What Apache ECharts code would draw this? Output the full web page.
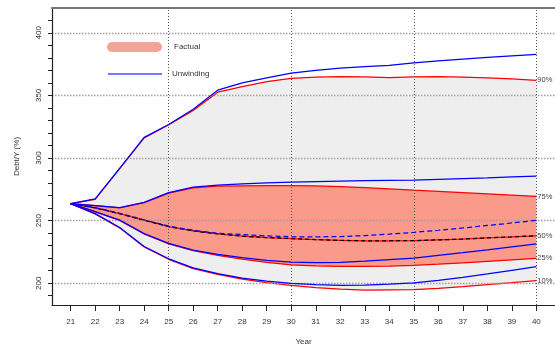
<!DOCTYPE html>
<html><head><meta charset="utf-8">
<script src="https://cdn.jsdelivr.net/npm/echarts@6/dist/echarts.min.js"></script>
<style>html,body{margin:0;padding:0;background:#fff}#c{width:555px;height:351px}</style>
</head><body><div id="c"></div>
<script>
const years = [21,22,23,24,25,26,27,28,29,30,31,32,33,34,35,36,37,38,39,40];
// Factual quantiles (red)
const fact90 = [263.5,267,291.5,316,326.5,338,352.6,357,361,363.5,364.5,365,364.8,364.2,364.8,365,364.6,364,363.2,362];
const fact75 = [263.5,261.9,260.2,264.3,272,276.2,277.5,277.8,278,278,277.7,277.2,276.4,275.4,274.3,273.3,272.3,271.3,270.3,269.3];
const fact50 = [263.5,260.2,255.5,250.3,245.2,241.8,239.4,237.6,236.5,235.6,234.8,234.2,233.9,233.9,234,234.6,235.3,236.2,237,237.9];
const fact25 = [263.5,257,250.2,239.3,231.4,226,222.2,219.2,216.7,214.6,213.8,213.4,213.4,213.7,214.3,215.2,216.2,217.4,218.6,219.8];
const fact10 = [263.5,255.4,244.2,228.9,219.1,211.7,207,203.2,200.5,198.2,196.5,195.2,194.4,194.6,194.8,195.9,197.2,198.8,200.4,202.1];
// Unwinding quantiles (blue)
const unw90 = [263.5,267.3,291.8,316.5,326.8,339,354.2,360,364,367.7,370,371.7,373,374,376,377.6,379,380.4,381.6,382.8];
const unw75 = [263.5,262,260.4,264.6,272.4,276.8,278.3,279.4,280.1,280.7,281.1,281.5,281.9,282.2,282.4,283,283.6,284.2,284.9,285.5];
const unw50 = [263.5,260.4,255.8,250.6,245.6,242.3,239.9,238.9,237.8,237.1,237,237.3,238,239.2,240.6,242.3,244.1,246.1,248.1,250.2];
const unw25 = [263.5,257.2,250.4,239.6,231.8,226.5,223,220.4,218.3,216.8,216.4,216.6,217.6,218.8,220,222.2,224.4,226.7,229.1,231.5];
const unw10 = [263.5,255.6,244.5,229.3,219.5,212.3,207.6,204,201.7,199.8,198.8,198.2,198.4,199.2,200.2,202.2,204.6,207.4,210.3,213.2];
// Ticks / labels
const yTickValues = [190,200,210,220,230,240,250,260,270,280,290,300,310,320,330,340,350,360,370,380,390,400,410];
const yLabelValues = [200,250,300,350,400];
const yGridValues = [200,250,300,350,400];
const xGridYears = [25,30,35,40];
const quantLabels = ['10%','25%','50%','75%','90%'];
const legendNames = ['Factual','Unwinding'];

const FONT = 'Liberation Sans, Arial, Helvetica, sans-serif';
const RED = '#ff0000', BLUE = '#0000ff';
function pts(arr){ return years.map((y,i)=>[y,arr[i]]); }
function band(name, lower, upper, color){
  return {name, type:'custom', silent:true, z:1, itemStyle:{color},
    data:[[years[0], lower[0]]],
    renderItem:function(params, api){
      const up = years.map((y,i)=>api.coord([y, upper[i]]));
      const lo = years.map((y,i)=>api.coord([y, lower[i]])).reverse();
      return {type:'polygon', shape:{points:up.concat(lo)}, style:{fill:color, stroke:null}};
    }};
}
function line(name, arr, color, extra){
  return Object.assign({name, type:'line', data:pts(arr), symbol:'none', silent:true, z:4,
    lineStyle:{color, width:1.25}, itemStyle:{color}}, extra||{});
}
function endLab(t){
  return {endLabel:{show:true, formatter:t, distance:1, fontSize:7.5, color:'#444', fontFamily:FONT}};
}
const hGrid = {color:'#a0a0a0', width:1.4, type:[1.5,1.5]};
const vGrid = {color:'#555', width:1, type:[1,2]};

const option = {
  animation:false,
  textStyle:{fontFamily:FONT},
  grid:{left:52, right:0, top:8, height:299, containLabel:false},
  legend:[
    {left:107, top:42, padding:0, selectedMode:false, itemWidth:55, itemHeight:10,
     data:[{name:legendNames[0], icon:'path://M5,0 H50 A5,5 0 0 1 50,10 H5 A5,5 0 0 1 5,0 Z', itemStyle:{color:'#f4a396', borderWidth:0}}],
     textStyle:{fontSize:8, color:'#333', fontFamily:FONT, padding:[0,0,0,7]}},
    {left:108, top:70, padding:0, selectedMode:false, itemWidth:54, itemHeight:1.6,
     data:[{name:legendNames[1], icon:'rect', itemStyle:{color:'#4d4dff', borderWidth:0}}],
     textStyle:{fontSize:8, color:'#333', fontFamily:FONT, padding:[0,0,0,5]}}
  ],
  xAxis:[
    {type:'value', min:20.24, max:40.76, position:'bottom', z:6,
     axisLine:{show:true, onZero:false, lineStyle:{color:'#222', width:1.2}},
     axisTick:{show:true, customValues:years, length:6, lineStyle:{color:'#222'}},
     axisLabel:{customValues:years, margin:13, fontSize:8, color:'#333', fontFamily:FONT},
     splitLine:{show:false},
     name:'Year', nameLocation:'middle', nameGap:33, nameTextStyle:{fontSize:8, color:'#333', fontFamily:FONT}},
    {type:'value', min:20.24, max:40.76, position:'top', z:6,
     axisLine:{show:true, onZero:false, lineStyle:{color:'#777', width:2}},
     axisTick:{show:false}, axisLabel:{show:false}, splitLine:{show:false}}
  ],
  yAxis:{type:'value', min:182.6, max:419.8, z:6,
    axisLine:{show:true, onZero:false, lineStyle:{color:'#222', width:1.2}},
    axisTick:{show:true, customValues:yTickValues, length:4, lineStyle:{color:'#222'}},
    axisLabel:{customValues:yLabelValues, rotate:90, margin:9, fontSize:8, color:'#333', fontFamily:FONT},
    splitLine:{show:false},
    name:'Debt/Y (%)', nameLocation:'middle', nameGap:31, nameRotate:90,
    nameTextStyle:{fontSize:8, color:'#333', fontFamily:FONT}},
  series:[
    band('band1090', fact10, fact90, '#eeeeee'),
    band(legendNames[0], fact25, fact75, '#f99a8a'),
    {name:'grid', type:'line', data:[], z:3, silent:true,
     markLine:{silent:true, symbol:'none', label:{show:false}, animation:false,
       data:[...yGridValues.map(v=>({yAxis:v, lineStyle:hGrid})), ...xGridYears.map(v=>({xAxis:v, lineStyle:vGrid}))]}},
    line('f90', fact90, RED, endLab(quantLabels[4])),
    line('f75', fact75, RED, endLab(quantLabels[3])),
    line('f50', fact50, RED, endLab(quantLabels[2])),
    line('f25', fact25, RED, endLab(quantLabels[1])),
    line('f10', fact10, RED, endLab(quantLabels[0])),
    line('f50d', fact50, '#000000', {lineStyle:{color:'#000', width:1.25, type:[4,3]}, z:5}),
    line('u90', unw90, BLUE, {z:6}),
    line('u75', unw75, BLUE, {z:6}),
    line(legendNames[1], unw50, BLUE, {lineStyle:{color:BLUE, width:1.25, type:[5,3]}, z:6}),
    line('u25', unw25, BLUE, {z:6}),
    line('u10', unw10, BLUE, {z:6})
  ]
};
const chart = echarts.init(document.getElementById('c'), null, {renderer:'canvas'});
chart.setOption(option);
</script></body></html>
